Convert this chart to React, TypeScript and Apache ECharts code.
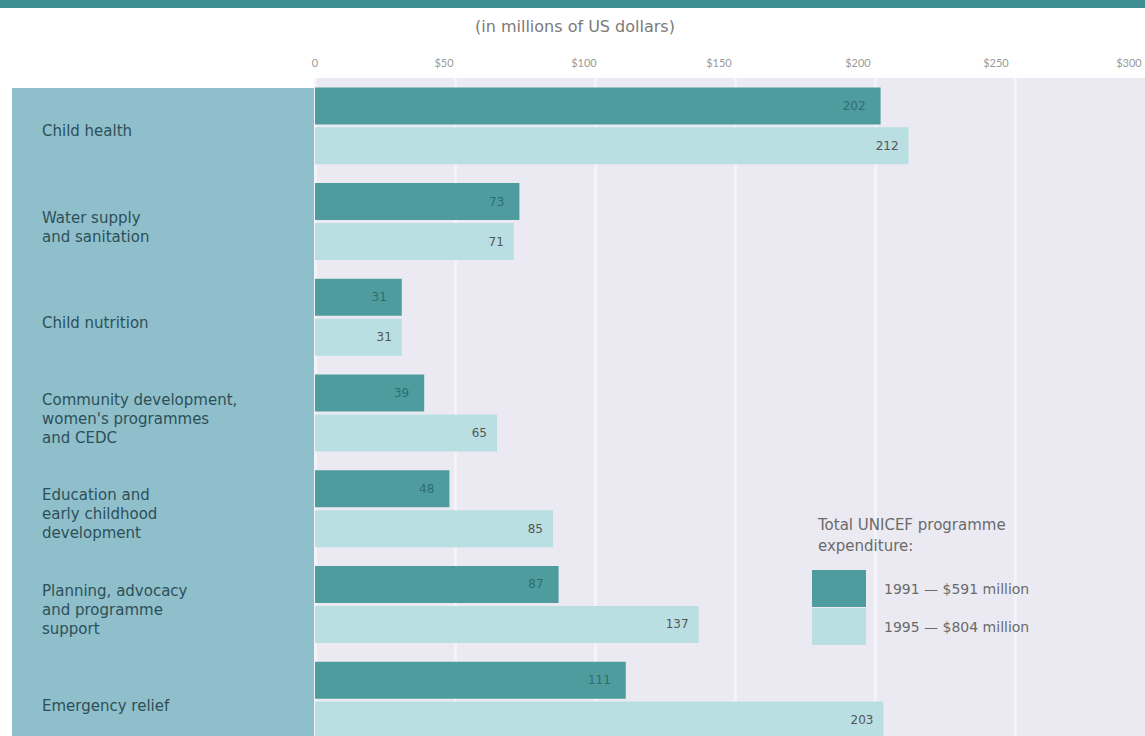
import React, { useEffect, useRef } from "react";
import * as echarts from "echarts";

const categories = [
  "Child health",
  "Water supply\nand sanitation",
  "Child nutrition",
  "Community development,\nwomen's programmes\nand CEDC",
  "Education and\nearly childhood\ndevelopment",
  "Planning, advocacy\nand programme\nsupport",
  "Emergency relief",
];
const values1991 = [202, 73, 31, 39, 48, 87, 111];
const values1995 = [212, 71, 31, 65, 85, 137, 203];
const seriesNames = ["1991 — $591 million", "1995 — $804 million"];
const axisTicks = [0, 50, 100, 150, 200, 250, 300];
const unitNote = "(in millions of US dollars)";
const legendTitle = "Total UNICEF programme\nexpenditure:";

const FONT = "'DejaVu Sans', 'Noto Sans', sans-serif";
const TICKFONT = "Lato, 'Noto Sans', sans-serif";

// leftward nudge of each tick label (print offset in the original)
const tickShift: Record<number, number> = { 0: 0, 50: 11, 100: 11, 150: 16, 200: 17, 250: 19, 300: 26 };

const tickRich: Record<string, any> = {};
axisTicks.forEach((t) => {
  tickRich["t" + t] = {
    color: "#9a9a9a",
    fontSize: 11,
    fontFamily: TICKFONT,
    padding: [0, tickShift[t] * 2, 0, 0],
  };
});

export default function App() {
  const ref = useRef<HTMLDivElement>(null);
  useEffect(() => {
    document.body.style.margin = "0";
    const chart = echarts.init(ref.current!, null, { renderer: "svg" });
    chart.setOption({
      animation: false,
      backgroundColor: "#ffffff",
      title: [
        {
          text: unitNote,
          left: 470,
          top: 13,
          textStyle: { color: "#7a7a7a", fontSize: 16, fontWeight: "normal", fontFamily: FONT },
        },
        {
          text: legendTitle,
          left: 813,
          top: 509,
          textStyle: {
            color: "#6a6a6a",
            fontSize: 15,
            fontWeight: "normal",
            fontFamily: FONT,
            lineHeight: 21,
          },
        },
      ],
      graphic: [
        { type: "rect", shape: { x: 0, y: 0, width: 1160, height: 8 }, style: { fill: "#3f8e92" }, z: 10 },
        { type: "rect", shape: { x: 12, y: 88, width: 303, height: 670 }, style: { fill: "#8ebfcb" }, z: 0 },
      ],
      legend: {
        orient: "vertical",
        left: 812,
        top: 570,
        padding: 0,
        itemWidth: 54,
        itemHeight: 37,
        itemGap: 1,
        icon: "rect",
        data: seriesNames,
        textStyle: { color: "#6a6a6a", fontSize: 14, fontFamily: FONT, padding: [0, 0, 0, 13] },
      },
      grid: {
        left: 315,
        top: 78,
        width: 840,
        height: 670,
        show: true,
        backgroundColor: "#ebeaf3",
        borderWidth: 0,
      },
      xAxis: {
        type: "value",
        position: "top",
        min: 0,
        max: 300,
        interval: 50,
        axisLine: { show: false },
        axisTick: { show: false },
        splitLine: { show: true, lineStyle: { color: "#f4f3f9", width: 3 } },
        axisLabel: {
          margin: 10,
          color: "#9a9a9a",
          fontSize: 11,
          fontFamily: TICKFONT,
          rich: tickRich,
          formatter: (v: number) =>
            axisTicks.includes(v) ? `{t${v}|${v === 0 ? "0" : "$" + v}}` : "",
        },
      },
      yAxis: {
        type: "category",
        inverse: true,
        data: categories,
        axisLine: { show: false },
        axisTick: { show: false },
        axisLabel: {
          align: "left",
          margin: 273,
          formatter: (v: string) =>
            "{g| }\n" + v.split("\n").map((l) => `{a|${l}}`).join("\n"),
          rich: {
            g: { fontSize: 1, lineHeight: 11, height: 11 },
            a: {
              color: "#2f4f58",
              fontSize: 15,
              lineHeight: 19,
              fontFamily: FONT,
              align: "left",
            },
          },
        },
      },
      series: [
        {
          name: seriesNames[0],
          type: "bar",
          data: values1991,
          barWidth: 37,
          barGap: "8%",
          itemStyle: { color: "#4f9c9e" },
          label: {
            show: true,
            position: "insideRight",
            distance: 15,
            color: "#2e6e70",
            fontSize: 12,
            fontFamily: FONT,
          },
          z: 3,
        },
        {
          name: seriesNames[1],
          type: "bar",
          data: values1995,
          barWidth: 37,
          itemStyle: { color: "#b9dfe3" },
          label: {
            show: true,
            position: "insideRight",
            distance: 10,
            color: "#555555",
            fontSize: 12,
            fontFamily: FONT,
          },
          z: 3,
        },
      ],
    });
    return () => chart.dispose();
  }, []);
  return (
    <div
      ref={ref}
      style={{ position: "fixed", left: 0, top: 0, width: 1160, height: 760 }}
    />
  );
}
